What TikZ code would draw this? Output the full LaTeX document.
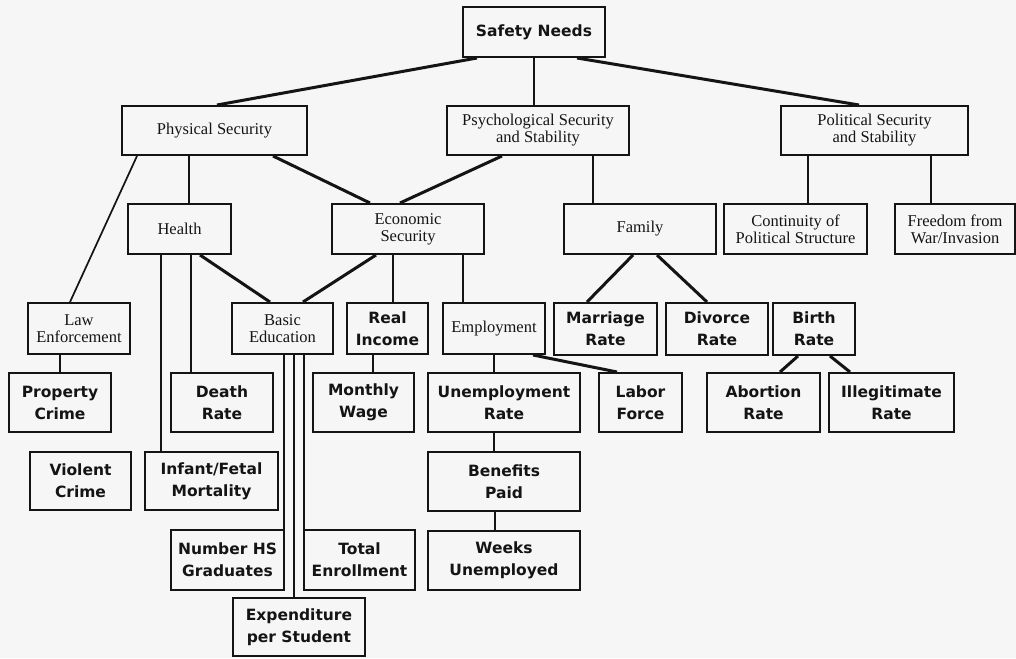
\documentclass[tikz,border=0pt]{standalone}
\usepackage{fontspec}
\usepackage{tikz}
\newfontfamily\timesface{Liberation Serif}
\newfontfamily\boldface{DejaVu Sans Bold}
\newcommand{\romfont}{\timesface\fontsize{16.5}{17}\selectfont}
\newcommand{\chifont}{\boldface\fontsize{15.5}{22}\selectfont}
\definecolor{paper}{RGB}{246,246,246}
\definecolor{ink}{RGB}{20,20,20}

\begin{document}
\begin{tikzpicture}[x=1pt,y=1pt,
        rom/.style = {draw=ink, text=ink, line width=2pt, align=center, inner sep=0pt, font=\romfont},
        chi/.style = {draw=ink, text=ink, line width=2pt, align=center, inner sep=0pt, font=\chifont},
        wh/.style 2 args = {minimum width=#1pt, minimum height=#2pt},
        stem/.style = {draw=ink, line width=1.7pt},
        slant/.style = {draw=ink, line width=3pt},
        node distance={79pt}]
        \fill[paper] (0,0) rectangle (1016,-658);
        \useasboundingbox (0,0) rectangle (1016,-658);
        % top and second row
        \node[chi, wh={142}{50}] (safety) at (534,-32) {Safety Needs};
        \node[rom, wh={185}{49}] (phys) at (214.5,-130.5) {Physical Security};
        \node[rom, wh={182}{49}] (psych) at (538,-130.5) {Psychological Security\\and Stability};
        \node[rom, wh={187}{49}] (polit) at (874.5,-130.5) {Political Security\\and Stability};
        % third row
        \node[rom, wh={103}{50}] (health) at (179.5,-229) {Health};
        \node[rom, wh={152}{50}] (econ) at (408,-229) {Economic\\Security};
        \node[rom, wh={152}{50}] (family) at (640,-229) {Family};
        \node[rom, wh={143}{50}] (contin) at (795.5,-229) {Continuity of\\Political Structure};
        \node[rom, wh={120}{50}] (freedom) at (955,-229) {Freedom from\\War/Invasion};
        % fourth row
        \node[rom, wh={102}{51}] (lawenf) at (79,-328.5) {Law\\Enforcement};
        \node[rom, wh={101}{51}] (basic) at (282.5,-328.5) {Basic\\Education};
        \node[chi, wh={81}{51}] (realinc) at (387.5,-328.5) {Real\\Income};
        \node[rom, wh={102}{51}] (employ) at (494,-328.5) {Employment};
        \node[chi, wh={103}{52}] (marriage) at (605.5,-329) {Marriage\\Rate};
        \node[chi, wh={102}{52}] (divorce) at (717,-329) {Divorce\\Rate};
        \node[chi, wh={82}{52}] (birth) at (814,-329) {Birth\\Rate};
        % indicators
        \node[chi, wh={102}{59}] (property) at (60,-402.5) {Property\\Crime};
        \node[chi, wh={102}{59}] (death) at (222,-402.5) {Death\\Rate};
        \node[chi, wh={101}{59}] (monthly) at (363.5,-402.5) {Monthly\\Wage};
        \node[chi, wh={152}{59}] (unemp) at (504,-402.5) {Unemployment\\Rate};
        \node[chi, wh={83}{59}] (labor) at (640.5,-402.5) {Labor\\Force};
        \node[chi, wh={113}{59}] (abort) at (763.5,-402.5) {Abortion\\Rate};
        \node[chi, wh={125}{59}] (illeg) at (891.5,-402.5) {Illegitimate\\Rate};
        \node[chi, wh={101}{58}] (violent) at (80.5,-481) {Violent\\Crime};
        \node[chi, wh={133}{58}] (infant) at (211.5,-481) {Infant/Fetal\\Mortality};
        \node[chi, wh={152}{59}] (benef) [below of=unemp] {Benefits\\Paid};
        \node[chi, wh={152}{59}] (weeks) [below of=benef] {Weeks\\Unemployed};
        \node[chi, wh={113}{60}] (numhs) at (227.5,-560) {Number HS\\Graduates};
        \node[chi, wh={111}{60}] (total) at (359.5,-560) {Total\\Enrollment};
        \node[chi, wh={132}{58}] (expend) at (299,-627) {Expenditure\\per Student};
        % links
        \draw[slant] ([xshift=-57pt]safety.south) -- ([xshift=2.5pt]phys.north);
        \draw[stem] (safety.south) -- (safety.south |- psych.north);
        \draw[slant] ([xshift=43pt]safety.south) -- ([xshift=-15.5pt]polit.north);
        \draw[stem] ([xshift=-77.5pt]phys.south) -- ([xshift=-9pt]lawenf.north);
        \draw[stem] ([xshift=9.5pt]health.north) -- ([xshift=9.5pt]health.north |- phys.south);
        \draw[slant] ([xshift=58.5pt]phys.south) -- ([xshift=-38pt]econ.north);
        \draw[slant] ([xshift=-36pt]psych.south) -- ([xshift=-8pt]econ.north);
        \draw[stem] ([xshift=-47pt]family.north) -- ([xshift=-47pt]family.north |- psych.south);
        \draw[stem] ([xshift=12.5pt]contin.north) -- ([xshift=12.5pt]contin.north |- polit.south);
        \draw[stem] ([xshift=-24pt]freedom.north) -- ([xshift=-24pt]freedom.north |- polit.south);
        \draw[stem] (property.north) -- (property.north |- lawenf.south);
        \draw[stem] ([xshift=-50.5pt]infant.north) -- ([xshift=-50.5pt]infant.north |- health.south);
        \draw[stem] ([xshift=-31pt]death.north) -- ([xshift=-31pt]death.north |- health.south);
        \draw[slant] ([xshift=20.5pt]health.south) -- ([xshift=-12.5pt]basic.north);
        \draw[slant] ([xshift=-32pt]econ.south) -- ([xshift=20.5pt]basic.north);
        \draw[stem] ([xshift=5.5pt]realinc.north) -- ([xshift=5.5pt]realinc.north |- econ.south);
        \draw[stem] ([xshift=-31pt]employ.north) -- ([xshift=-31pt]employ.north |- econ.south);
        \draw[stem] ([xshift=-1pt]numhs.north east) -- ([xshift=-1pt]numhs.north east |- basic.south);
        \draw[stem] ([xshift=-5pt]expend.north) -- ([xshift=-5pt]expend.north |- basic.south);
        \draw[stem] ([xshift=1pt]total.north west) -- ([xshift=1pt]total.north west |- basic.south);
        \draw[stem] ([xshift=9.5pt]monthly.north) -- ([xshift=9.5pt]monthly.north |- realinc.south);
        \draw[stem] (employ.south) -- (employ.south |- unemp.north);
        \draw[slant] ([xshift=39pt]employ.south) -- ([xshift=-23.5pt]labor.north);
        \draw[stem] ([xshift=-10pt]unemp.south) -- ([xshift=-10pt]unemp.south |- benef.north);
        \draw[stem] ([xshift=-9pt]benef.south) -- ([xshift=-9pt]benef.south |- weeks.north);
        \draw[slant] ([xshift=-7pt]family.south) -- ([xshift=-18.5pt]marriage.north);
        \draw[slant] ([xshift=17pt]family.south) -- ([xshift=-10pt]divorce.north);
        \draw[slant] ([xshift=-16pt]birth.south) -- ([xshift=16.5pt]abort.north);
        \draw[slant] ([xshift=16pt]birth.south) -- ([xshift=-41.5pt]illeg.north);
\end{tikzpicture}
\end{document}
